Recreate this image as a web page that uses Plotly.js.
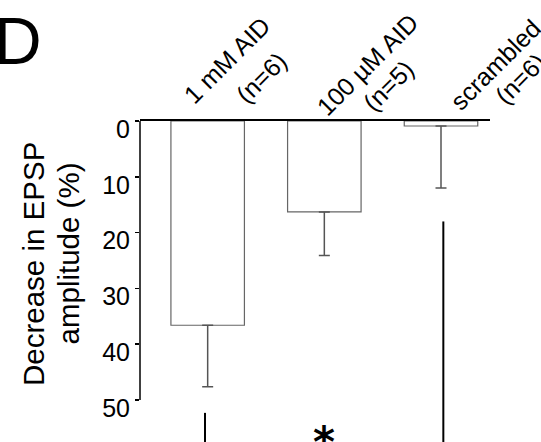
<!DOCTYPE html>
<html><head><meta charset="utf-8">
<script src="https://cdn.plot.ly/plotly-3.0.1.min.js"></script>
<style>html,body{margin:0;padding:0;background:#fff}</style>
</head><body><div id="chart" style="width:541px;height:442px"></div>
<script>
// ---- data ----
const categories = ['1 mM AID', '100 µM AID', 'scrambled'];
const labelLine1 = ['1 mM AID', '100 µM AID', 'scrambled'];
const labelLine2 = ['(n=6)', '(n=5)', '(n=6)'];
const decrease = [36.6, 16.3, 0.9];
const sem = [11.0, 7.8, 11.1];
const yTickVals = [0, 10, 20, 30, 40, 50];
const yTickText = ['0', '10', '20', '30', '40', '50'];
const sigPair = ['1 mM AID', 'scrambled'];
const sigStart = [52.3, 18.0];
const sigLabel = '*';
const panelLetter = 'D';
const yTitleLines = ['Decrease in EPSP', 'amplitude (%)'];

// ---- layout geometry (pixels) ----
const W = 541, H = 442;
const M = {l: 140, r: 51, t: 121, b: 0};
const PW = W - M.l - M.r, PH = H - M.t - M.b;
const px = x => (x - M.l) / PW;
const py = y => (H - M.b - y) / PH;
const FONT = 'Liberation Sans, Arial, sans-serif';
const YMAX = 57.52;

const line1Centers = [[227, 60], [367, 65], [495, 65]];
const line2Centers = [[261, 78], [388, 86], [520, 79]];

const annotations = [];
labelLine1.forEach((t, i) => {
  annotations.push({text: t, xref: 'paper', yref: 'paper', x: px(line1Centers[i][0]), y: py(line1Centers[i][1]),
    xanchor: 'center', yanchor: 'middle', textangle: -45, showarrow: false, font: {family: FONT, size: 25, color: '#000'}});
  annotations.push({text: labelLine2[i], xref: 'paper', yref: 'paper', x: px(line2Centers[i][0]), y: py(line2Centers[i][1]),
    xanchor: 'center', yanchor: 'middle', textangle: -45, showarrow: false, font: {family: FONT, size: 25, color: '#000'}});
});
annotations.push({text: yTitleLines[0], xref: 'paper', yref: 'paper', x: px(33), y: py(264), xanchor: 'center', yanchor: 'middle',
  textangle: -90, showarrow: false, font: {family: FONT, size: 29.5, color: '#000'}});
annotations.push({text: yTitleLines[1], xref: 'paper', yref: 'paper', x: px(68), y: py(253.5), xanchor: 'center', yanchor: 'middle',
  textangle: -90, showarrow: false, font: {family: FONT, size: 29.5, color: '#000'}});
annotations.push({text: panelLetter, xref: 'paper', yref: 'paper', x: px(-8), y: py(41), xanchor: 'left', yanchor: 'middle',
  showarrow: false, font: {family: FONT, size: 66, color: '#000'}});
annotations.push({text: sigLabel, xref: 'x', yref: 'y', x: 1, y: 55.7, xanchor: 'center', yanchor: 'middle',
  showarrow: false, yshift: -11, font: {family: 'DejaVu Sans', size: 42, color: '#000', weight: 'bold'}});

const shapes = [
  {type: 'line', xref: 'paper', yref: 'y', x0: 0, x1: 0, y0: 0, y1: 50, line: {color: '#000', width: 1.5}},
  {type: 'line', xref: 'x', yref: 'y', x0: categories.indexOf(sigPair[0]) - 0.023, x1: categories.indexOf(sigPair[0]) - 0.023,
    y0: sigStart[0], y1: YMAX, line: {color: '#000', width: 2}},
  {type: 'line', xref: 'x', yref: 'y', x0: categories.indexOf(sigPair[1]) + 0.02, x1: categories.indexOf(sigPair[1]) + 0.02,
    y0: sigStart[1], y1: YMAX, line: {color: '#000', width: 2}}
];

const trace = {
  type: 'bar', x: categories, y: decrease, width: 0.63,
  marker: {color: '#fff', line: {color: '#666', width: 1.2}},
  error_y: {type: 'data', symmetric: false, array: sem, arrayminus: sem.map(() => 0),
    color: '#555', thickness: 1.5, width: 5.5},
  hoverinfo: 'skip'
};

const layout = {
  width: W, height: H, margin: {l: M.l, r: M.r, t: M.t, b: M.b, pad: 0},
  paper_bgcolor: '#fff', plot_bgcolor: '#fff', showlegend: false,
  xaxis: {type: 'category', range: [-0.58, 2.42], side: 'top', showline: true, linecolor: '#000', linewidth: 2,
    ticks: '', showticklabels: false, showgrid: false, zeroline: false, fixedrange: true},
  yaxis: {range: [YMAX, 0], showline: false, ticks: 'outside', ticklen: 4, tickwidth: 1.5, tickcolor: '#000',
    tickvals: yTickVals, ticktext: yTickText, tickfont: {family: FONT, size: 25, color: '#000'},
    ticklabelshift: -8, ticklabelstandoff: 0,
    showgrid: false, zeroline: false, fixedrange: true},
  annotations: annotations, shapes: shapes
};

Plotly.newPlot('chart', [trace], layout, {displayModeBar: false, staticPlot: true});
</script></body></html>
